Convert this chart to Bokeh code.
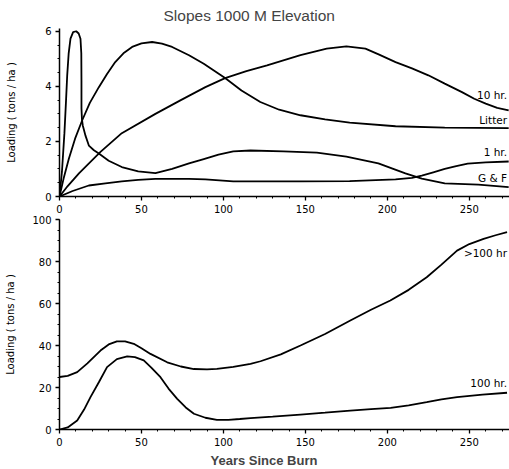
from bokeh.plotting import figure
from bokeh.layouts import column
from bokeh.models import Range1d, Title, FixedTicker
from bokeh.core.properties import value
from bokeh.embed import file_html
from bokeh.resources import INLINE

# ---------------- data: upper panel (tons/ha) ----------------
gf_x = [0, 1.5, 3, 4, 4.7, 5.6, 6.7, 8.3, 10.2, 11.7, 12.8, 13.3, 13.4, 13.4, 13.7, 14.2,
        15.9, 17.9, 21, 24, 30, 38, 48, 58.5, 68.7, 79, 88, 97, 106, 116.5, 136.6, 157,
        175, 194.5, 211, 221, 235, 255.5, 274]
gf_y = [0, 0.9, 2.3, 3.5, 4.4, 5.2, 5.73, 5.97, 6.0, 5.92, 5.73, 5.2, 4.2, 3.2, 2.8, 2.58,
        2.2, 1.85, 1.68, 1.56, 1.3, 1.07, 0.91, 0.85, 1.0, 1.2, 1.36, 1.52, 1.64, 1.67, 1.64, 1.59,
        1.45, 1.2, 0.84, 0.65, 0.48, 0.43, 0.34]

hr1_x = [0, 8, 17.9, 28, 38, 48, 58.5, 79, 89, 106, 126, 147, 177, 205, 215, 221, 228, 235, 242, 249, 260, 274]
hr1_y = [0, 0.2, 0.4, 0.48, 0.55, 0.6, 0.64, 0.64, 0.62, 0.55, 0.55, 0.55, 0.56, 0.62, 0.68, 0.76, 0.88, 1.0, 1.1, 1.19, 1.24, 1.27]

litter_x = [0, 2.5, 5.7, 9.5, 13.8, 18.5, 24, 29, 34, 39, 44.3, 50, 56.5, 62.5, 68.7, 79, 88, 101,
            111, 122.5, 134, 147, 162, 177, 205, 235, 274]
litter_y = [0, 0.65, 1.37, 2.1, 2.76, 3.4, 3.97, 4.45, 4.88, 5.2, 5.43, 5.56, 5.61, 5.55, 5.43, 5.13, 4.82, 4.3,
            3.85, 3.43, 3.15, 2.95, 2.8, 2.68, 2.55, 2.5, 2.48]

hr10_x = [0, 5, 12, 25, 38, 58.5, 74, 89, 101, 114, 126.6, 147, 163, 175, 186.6, 195, 205, 215, 225,
          235, 245.5, 253, 260, 267, 274]
hr10_y = [0, 0.38, 0.85, 1.62, 2.3, 3.0, 3.5, 3.97, 4.3, 4.55, 4.76, 5.13, 5.37, 5.45, 5.37, 5.15, 4.88, 4.65, 4.4,
          4.1, 3.79, 3.55, 3.37, 3.22, 3.13]

# ---------------- data: lower panel (tons/ha) ----------------
gt100_x = [0, 5, 10.8, 17, 25, 30, 35, 40, 45.3, 50, 55.5, 65.7, 74, 82, 90, 96, 106, 116.5, 122.6,
           135, 147, 162, 177.4, 190, 201.8, 213, 224, 233, 242.5, 250, 258.7, 266, 273]
gt100_y = [25, 25.5, 27.3, 31.5, 37.6, 40.5, 42, 42, 40.8, 38.7, 36, 32, 30, 28.8, 28.6, 28.9, 29.8, 31.3, 32.5,
           35.8, 40, 45.5, 51.9, 57, 61.4, 66.5, 72.5, 78.5, 85.2, 88.3, 90.8, 92.5, 94]

hr100_x = [0, 5, 10.8, 15, 18.9, 24, 29, 35, 41.3, 46, 51.4, 56, 61.6, 66.5, 71.8, 77, 82, 89, 96, 103,
           110, 116.5, 130, 147, 162, 177.4, 190, 202, 213, 224, 233, 242.5, 258, 273]
hr100_y = [0, 1, 4.3, 9.5, 15.4, 22.5, 29.7, 33.5, 34.8, 34.5, 32.9, 29.5, 24.9, 19.5, 14.6, 10.5, 7.5, 5.6, 4.6, 4.6,
           5.0, 5.4, 6.1, 7.1, 8.0, 9.0, 9.7, 10.3, 11.5, 13, 14.3, 15.4, 16.6, 17.5]

top_labels = ["10 hr.", "Litter", "1 hr.", "G & F"]
top_label_y = [3.7, 2.76, 1.6, 0.67]
bot_labels = [">100 hr", "100 hr."]
bot_label_y = [84, 22]

x_ticks = [0, 50, 100, 150, 200, 250]
top_y_ticks = [0, 2, 4, 6]
bot_y_ticks = [0, 20, 40, 60, 80, 100]
y_title = "Loading ( tons / ha )"

FONT = "DejaVu Sans"
XMAX = 274.5
LABEL_X = 273


def style(p, yticks, yminor, label_standoff):
    p.grid.visible = False
    p.outline_line_color = None
    p.background_fill_color = "white"
    p.border_fill_color = "white"
    for ax in (p.xaxis[0], p.yaxis[0]):
        ax.axis_line_color = "black"
        ax.axis_line_width = 1.5
        ax.major_tick_line_color = "black"
        ax.major_tick_line_width = 1.3
        ax.major_tick_out = 4
        ax.major_tick_in = 0
        ax.minor_tick_line_color = "black"
        ax.minor_tick_out = 2
        ax.minor_tick_in = 0
        ax.major_label_text_font = FONT
        ax.major_label_text_font_size = "10px"
        ax.major_label_text_color = "black"
    p.xaxis[0].ticker = FixedTicker(ticks=x_ticks, minor_ticks=list(range(0, 271, 10)))
    p.yaxis[0].ticker = FixedTicker(ticks=yticks, minor_ticks=yminor)
    p.xaxis[0].major_label_standoff = 4
    p.yaxis[0].major_label_standoff = 4
    p.yaxis[0].axis_label = y_title
    p.yaxis[0].axis_label_text_font = FONT
    p.yaxis[0].axis_label_text_font_size = "10px"
    p.yaxis[0].axis_label_text_font_style = "normal"
    p.yaxis[0].axis_label_text_color = "black"
    p.yaxis[0].axis_label_standoff = label_standoff


top = figure(frame_width=450, frame_height=168,
             x_range=Range1d(0, XMAX), y_range=Range1d(0, 6.1),
             output_backend="svg", toolbar_location=None,
             min_border_left=59, min_border_right=0, min_border_top=28, min_border_bottom=0)
style(top, top_y_ticks, [i * 0.5 for i in range(13)], 25)
top.title.text = "Slopes 1000 M Elevation"
top.title.align = "left"
top.title.offset = 104
top.title.vertical_align = "top"
top.title.text_font = "Liberation Sans"
top.title.text_font_size = "15.5px"
top.title.text_font_style = "normal"
top.title.standoff = 6

for xs, ys in ((gf_x, gf_y), (hr1_x, hr1_y), (litter_x, litter_y), (hr10_x, hr10_y)):
    top.line(xs, ys, line_color="black", line_width=1.8)
top.text(x=[LABEL_X] * len(top_labels), y=top_label_y, text=top_labels,
         text_align="right", text_baseline="middle",
         text_font=value(FONT), text_font_size="10.5px", text_color="black")

bot = figure(frame_width=450, frame_height=210,
             x_range=Range1d(0, XMAX), y_range=Range1d(0, 100),
             output_backend="svg", toolbar_location=None,
             min_border_left=59, min_border_right=0, min_border_top=4, min_border_bottom=0)
style(bot, bot_y_ticks, list(range(0, 101, 5)), 13)
bot.add_layout(Title(text="Years Since Burn", align="left", offset=151, standoff=4,
                     text_font="Liberation Sans", text_font_size="13px", text_font_style="bold"), "below")

for xs, ys in ((gt100_x, gt100_y), (hr100_x, hr100_y)):
    bot.line(xs, ys, line_color="black", line_width=1.8)
bot.text(x=[LABEL_X] * len(bot_labels), y=bot_label_y, text=bot_labels,
         text_align="right", text_baseline="middle",
         text_font=value(FONT), text_font_size="10.5px", text_color="black")

layout = column(top, bot, spacing=0)
open("out.html", "w").write(file_html(layout, INLINE))
